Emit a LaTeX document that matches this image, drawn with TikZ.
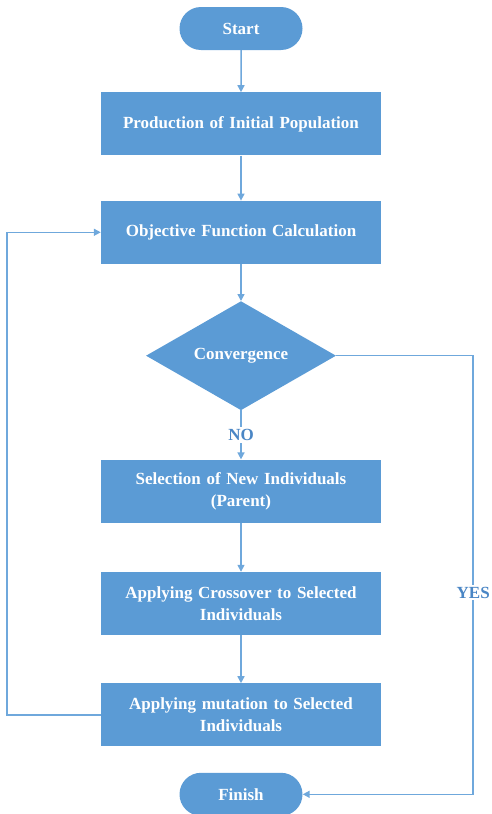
\documentclass[tikz,border=0pt]{standalone}
\usepackage{fontspec}
\setmainfont{Liberation Serif}
\usepackage{xcolor}
\usetikzlibrary{shapes,arrows.meta,positioning}

\definecolor{gablue}{HTML}{5B9BD5}
\definecolor{galine}{HTML}{6FA8DC}
\definecolor{gatext}{HTML}{4A86C5}

\begin{document}
\begin{tikzpicture}[
    x=1pt, y=-1pt,
    node distance=42pt,
    every node/.style={font=\fontsize{17}{22}\selectfont\bfseries},
    terminal/.style={rounded rectangle, fill=gablue, text=white, minimum width=123pt, minimum height=43pt, inner sep=0pt},
    process/.style={rectangle, fill=gablue, text=white, minimum width=280pt, minimum height=63pt, align=center, text width=260pt, inner sep=0pt},
    decision/.style={diamond, fill=gablue, text=white, aspect=1.74, minimum width=190pt, minimum height=109pt, inner sep=0pt},
    answer/.style={fill=white, text=gatext, inner sep=2pt},
    arrow/.style={-{Triangle[length=7pt,width=7pt]}, draw=galine, line width=1.5pt}
]
    \useasboundingbox (0,0) rectangle (491,814);

    \node[terminal] (start) at (241,28.5) {Start};
    \node[process, below=42pt of start] (init) {Production of Initial Population};
    \node[process, below=45pt of init] (objective) {Objective Function Calculation};
    \node[decision, below=37pt of objective] (conv) {Convergence};
    \node[process, below=49pt of conv] (select) {Selection of New Individuals\\(Parent)};
    \node[process, below=49pt of select] (crossover) {Applying Crossover to Selected\\Individuals};
    \node[process, below=48pt of crossover] (mutation) {Applying mutation to Selected\\Individuals};
    \node[terminal, below=26pt of mutation] (finish) {Finish};

    \draw[arrow] (start) -- (init);
    \draw[arrow] (init) -- (objective);
    \draw[arrow] (objective) -- (conv);
    \draw[arrow] (conv) -- node[answer] {NO} (select);
    \draw[arrow] (select) -- (crossover);
    \draw[arrow] (crossover) -- (mutation);
    % loop back to the objective function
    \draw[arrow] (mutation.west) -- ++(-94,0) |- (objective.west);
    % converged
    \draw[arrow] (conv.east) -- ++(137,0) |- node[answer, pos=0.27] {YES} (finish.east);
\end{tikzpicture}
\end{document}
